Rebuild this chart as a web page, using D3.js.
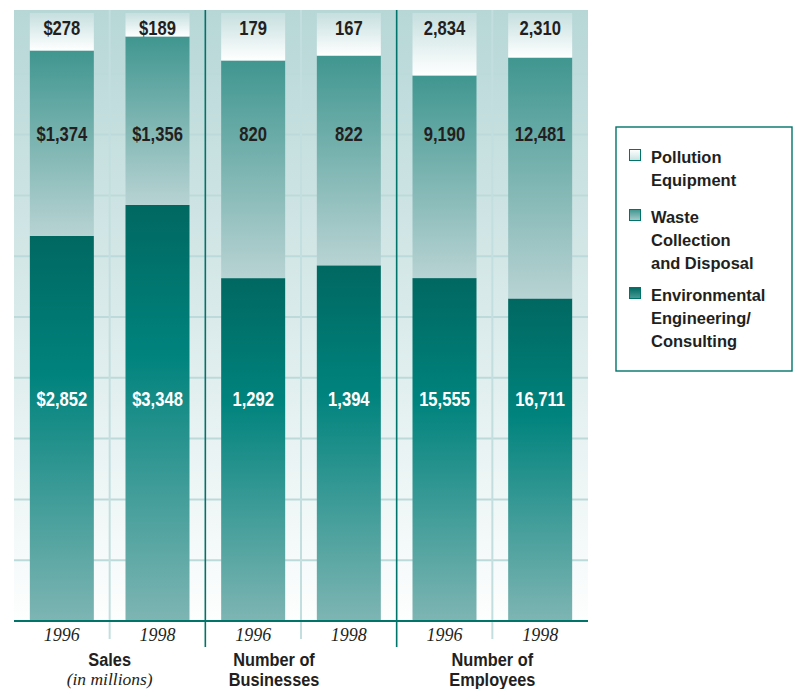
<!DOCTYPE html>
<html>
<head>
<meta charset="utf-8">
<script src="https://cdn.jsdelivr.net/npm/d3@7/dist/d3.min.js"></script>
<style>
  html, body { margin: 0; padding: 0; background: #ffffff; }
  svg { display: block; }
  .cond { font-family: "Liberation Sans", Arimo, Arial, sans-serif; font-weight: bold; }
  .serif { font-family: "Liberation Serif", "DejaVu Serif", serif; font-style: italic; }
</style>
</head>
<body>
<svg id="chart" width="794" height="689"></svg>
<script>
// ---- data ----
const groups = ["Sales", "Number of Businesses", "Number of Employees"];
const groupTitleLines = [["Sales"], ["Number of", "Businesses"], ["Number of", "Employees"]];
const groupNotes = ["(in millions)", "", ""];
const groupPrefix = ["$", "", ""];
const years = ["1996", "1998"];
const seriesNames = ["Pollution Equipment", "Waste Collection and Disposal", "Environmental Engineering/Consulting"];
const legendLines = [["Pollution", "Equipment"], ["Waste", "Collection", "and Disposal"], ["Environmental", "Engineering/", "Consulting"]];
const pollution     = [278, 189, 179, 167, 2834, 2310];
const waste         = [1374, 1356, 820, 822, 9190, 12481];
const environmental = [2852, 3348, 1292, 1394, 15555, 16711];
const yTicks = [0, 0.1, 0.2, 0.3, 0.4, 0.5, 0.6, 0.7, 0.8, 0.9, 1];

// ---- layout ----
const plot = { left: 14, right: 588, top: 10, bottom: 621 };
const teal = "#00736b";
const ink = "#231f20";

const svg = d3.select("#chart");
const defs = svg.append("defs");

function grad(id, stops) {
  const g = defs.append("linearGradient").attr("id", id)
    .attr("x1", 0).attr("y1", 0).attr("x2", 0).attr("y2", 1);
  stops.forEach(([o, c]) => g.append("stop").attr("offset", o).attr("stop-color", c));
}
grad("bg", [[0, "#b7d7d7"], [1, "#fdfefe"]]);
grad("g-poll", [[0, "#c6dfdf"], [1, "#ffffff"]]);
grad("g-waste", [[0, "#409690"], [1, "#b8d3d3"]]);
grad("g-env", [[0, "#006861"], [0.36, "#00837d"], [1, "#7eb5b3"]]);
grad("l-poll", [[0, "#ffffff"], [1, "#c9e1e1"]]);
grad("l-waste", [[0, "#3f958f"], [1, "#a9cccb"]]);
grad("l-env", [[0, "#006861"], [1, "#4a9c97"]]);
const fills = ["url(#g-poll)", "url(#g-waste)", "url(#g-env)"];
const legendFills = ["url(#l-poll)", "url(#l-waste)", "url(#l-env)"];

// condensed bold text: regular bold face squeezed horizontally
function condText(parent, x, y, size, squeeze, lines, lineGap, anchor, fill) {
  const g = parent.append("g").attr("transform", `translate(${x},${y}) scale(${squeeze},1)`);
  const t = g.append("text").attr("class", "cond")
    .attr("font-size", size).attr("fill", fill).attr("text-anchor", anchor);
  lines.forEach((line, li) => {
    t.append("tspan").attr("x", 0).attr("dy", li === 0 ? 0 : lineGap).text(line);
  });
  return t;
}

// one category per bar: group index + year
const cats = [];
groups.forEach((g, gi) => years.forEach((y, yi) => cats.push({ key: g + " " + y, gi, year: y, i: gi * 2 + yi })));

const x = d3.scaleBand().domain(cats.map(c => c.key)).range([plot.left, plot.right]).paddingInner(0.331).paddingOuter(0.1655);
const y = d3.scaleLinear().domain([0, 1]).range([plot.bottom, 13]);

// stacked shares per bar (bottom: environmental, then waste, then pollution)
const rows = cats.map(c => {
  const vals = [pollution[c.i], waste[c.i], environmental[c.i]];
  return Object.assign({}, c, { vals, total: d3.sum(vals) });
});
const stack = d3.stack().keys([2, 1, 0]).value((d, k) => d.vals[k] / d.total)(rows);

// background panel
svg.append("rect").attr("x", plot.left).attr("y", plot.top)
  .attr("width", plot.right - plot.left).attr("height", plot.bottom - plot.top)
  .attr("fill", "url(#bg)");

// horizontal grid
svg.append("g").selectAll("line").data(yTicks.slice(1, -1)).join("line")
  .attr("x1", plot.left).attr("x2", plot.right)
  .attr("y1", d => y(d)).attr("y2", d => y(d))
  .attr("stroke", "#bddada").attr("stroke-width", 2);

// light dividers between years within a group
const step = x.step();
svg.append("g").selectAll("line").data(groups).join("line")
  .attr("x1", (g, i) => plot.left + step * (2 * i + 1))
  .attr("x2", (g, i) => plot.left + step * (2 * i + 1))
  .attr("y1", plot.top).attr("y2", 639)
  .attr("stroke", "#c3dede").attr("stroke-width", 2);

// bars
const barG = svg.append("g");
stack.forEach(layer => {
  const s = layer.key;
  barG.append("g").selectAll("rect").data(layer).join("rect")
    .attr("x", d => x(d.data.key))
    .attr("width", x.bandwidth())
    .attr("y", d => y(d[1]))
    .attr("height", d => y(d[0]) - y(d[1]))
    .attr("fill", fills[s]);
});

// dark group separators and baseline
svg.append("g").selectAll("line").data(groups.slice(1)).join("line")
  .attr("x1", (g, i) => plot.left + step * 2 * (i + 1))
  .attr("x2", (g, i) => plot.left + step * 2 * (i + 1))
  .attr("y1", plot.top).attr("y2", 647)
  .attr("stroke", teal).attr("stroke-width", 1.6);
svg.append("line").attr("x1", plot.left).attr("x2", plot.right)
  .attr("y1", plot.bottom).attr("y2", plot.bottom)
  .attr("stroke", teal).attr("stroke-width", 1.8);

// value labels
const labelLevel = [0.964, 0.79, 0.353];
const labelColor = [ink, ink, "#ffffff"];
const fmt = d3.format(",");
const labelG = svg.append("g");
[0, 1, 2].forEach(s => {
  rows.forEach(d => {
    condText(labelG, x(d.key) + x.bandwidth() / 2, y(labelLevel[s]), 20.5, 0.81,
      [groupPrefix[d.gi] + fmt(d.vals[s])], 0, "middle", labelColor[s]);
  });
});

// year labels
svg.append("g").selectAll("text").data(cats).join("text")
  .attr("class", "serif")
  .attr("x", d => x(d.key) + x.bandwidth() / 2)
  .attr("y", 641)
  .attr("text-anchor", "middle")
  .attr("font-size", 18)
  .attr("fill", ink)
  .text(d => d.year);

// group titles
const titleShift = [0, -27, 0];
const titleG = svg.append("g");
groups.forEach((g, gi) => {
  const cx = plot.left + step * (2 * gi + 1) + titleShift[gi];
  condText(titleG, cx, 666, 19, 0.86, groupTitleLines[gi], 20.5, "middle", ink);
  if (groupNotes[gi]) {
    titleG.append("text").attr("class", "serif")
      .attr("x", cx).attr("y", 685).attr("text-anchor", "middle")
      .attr("font-size", 17.5).attr("fill", ink).text(groupNotes[gi]);
  }
});

// legend
const lg = svg.append("g");
lg.append("rect").attr("x", 616).attr("y", 127).attr("width", 176).attr("height", 244)
  .attr("fill", "#ffffff").attr("stroke", teal).attr("stroke-width", 1.4);
const legendTop = [163, 223, 301];
seriesNames.forEach((name, s) => {
  lg.append("rect").attr("x", 629.5).attr("y", legendTop[s] - 13.5)
    .attr("width", 11).attr("height", 11)
    .attr("fill", legendFills[s]).attr("stroke", teal).attr("stroke-width", 1);
  condText(lg, 651, legendTop[s], 17, 0.97, legendLines[s], 23, "start", ink);
});
</script>
</body>
</html>
